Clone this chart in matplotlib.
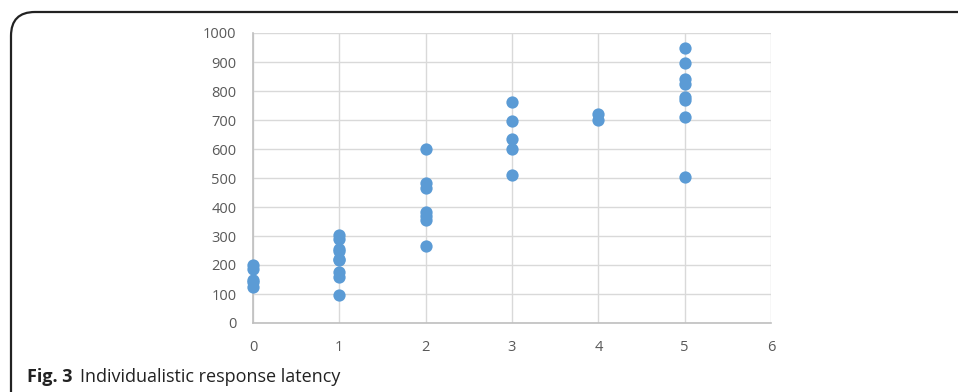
import matplotlib
matplotlib.use("Agg")
import matplotlib.pyplot as plt
from matplotlib.patches import FancyBboxPatch

plt.rcParams['font.family'] = ['Open Sans', 'DejaVu Sans']

x0 = [0, 0, 0, 0, 0]
y0 = [200, 185, 150, 140, 125]
x1 = [1] * 9
y1 = [303, 290, 255, 250, 220, 218, 175, 160, 97]
x2 = [2] * 7
y2 = [600, 483, 465, 383, 370, 355, 265]
x3 = [3] * 5
y3 = [762, 698, 633, 600, 510]
x4 = [4] * 2
y4 = [720, 700]
x5 = [5] * 8
y5 = [948, 898, 840, 825, 780, 768, 710, 502]

xs = x0 + x1 + x2 + x3 + x4 + x5
ys = y0 + y1 + y2 + y3 + y4 + y5

xticks = [0, 1, 2, 3, 4, 5, 6]
yticks = [0, 100, 200, 300, 400, 500, 600, 700, 800, 900, 1000]
caption_bold = "Fig. 3"
caption_text = "Individualistic response latency"

W, H = 958, 392
fig = plt.figure(figsize=(W / 100, H / 100), dpi=100)

# rounded frame
frame = FancyBboxPatch((11 / W, -0.2), 1.2, (H - 12) / H + 0.2,
                       boxstyle="round,pad=0,rounding_size=0.025",
                       transform=fig.transFigure, fill=False,
                       edgecolor="#222222", linewidth=1.6, mutation_aspect=W / H)
fig.patches.append(frame)

ax = fig.add_axes([253 / W, 1 - 323 / H, (771 - 253) / W, (323 - 33) / H])
ax.scatter(xs, ys, s=78, color="#5B9BD5", zorder=3, linewidths=0, clip_on=False)
ax.set_xlim(0, 6)
ax.set_ylim(0, 1000)
ax.set_xticks(xticks)
ax.set_yticks(yticks)
ax.grid(True, color="#D9D9D9", linewidth=1.0, zorder=0)
for s in ["top", "right"]:
    ax.spines[s].set_visible(False)
for s in ["left", "bottom"]:
    ax.spines[s].set_color("#BFBFBF")
    ax.spines[s].set_linewidth(1.2)
ax.tick_params(axis="y", length=0, labelsize=10.5, labelcolor="#595959", pad=12)
ax.tick_params(axis="x", length=0, labelsize=10.5, labelcolor="#595959", pad=12)
ax.set_axisbelow(True)

fig.text(27 / W, 1 - 382 / H, caption_bold, fontsize=13, fontweight="bold",
         color="#222222", va="baseline")
fig.text(80 / W, 1 - 382 / H, caption_text, fontsize=13,
         color="#222222", va="baseline")

fig.savefig("out.png", dpi=100)
